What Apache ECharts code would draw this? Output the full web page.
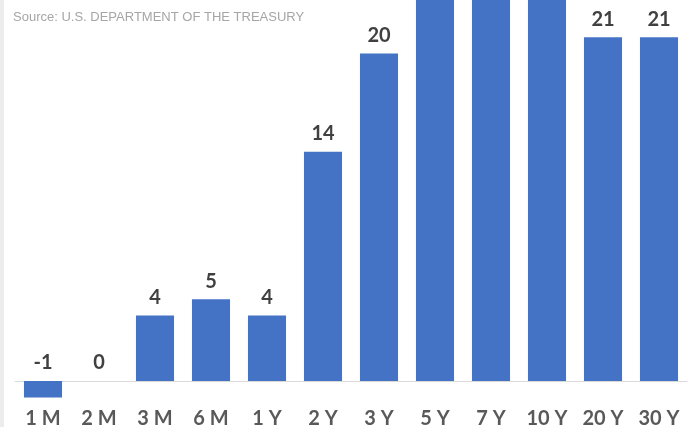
<!DOCTYPE html>
<html lang="en">
<head>
    <meta charset="UTF-8" />
    <title>Treasury yields</title>
    <script src="https://cdn.jsdelivr.net/npm/echarts@6/dist/echarts.min.js"></script>
    <style>
        html, body { margin: 0; padding: 0; background: #ffffff; }
        #main { width: 693px; height: 427px; }
    </style>
</head>
<body>
    <div id="main"></div>
    <script type="text/javascript">
        // maturities and values (5Y/7Y/10Y run off the top of the picture)
        var categories = ['1 M', '2 M', '3 M', '6 M', '1 Y', '2 Y', '3 Y', '5 Y', '7 Y', '10 Y', '20 Y', '30 Y'];
        var values = [-1, 0, 4, 5, 4, 14, 20, 25, 25, 24, 21, 21];
        var sourceText = 'Source: U.S. DEPARTMENT OF THE TREASURY';

        var myChart = echarts.init(document.getElementById('main'));
        var option;

        option = {
            animation: false,
            title: {
                text: sourceText,
                left: 8,
                top: 6,
                textStyle: {
                    fontFamily: 'Liberation Sans',
                    fontSize: 13,
                    fontWeight: 'normal',
                    color: '#a6a6a6'
                }
            },
            graphic: [
                {
                    type: 'rect',
                    left: 0,
                    top: 0,
                    shape: { width: 4, height: 427 },
                    style: { fill: '#ececec' }
                }
            ],
            grid: {
                left: 15,
                right: 6,
                top: 0,
                bottom: 21.4,
                containLabel: false,
                outerBoundsMode: 'none'
            },
            xAxis: {
                type: 'category',
                data: categories,
                axisLine: {
                    onZero: true,
                    lineStyle: { color: '#d9d9d9', width: 1 }
                },
                axisTick: { show: false },
                axisLabel: {
                    interval: 0,
                    margin: 3,
                    fontFamily: 'Lato',
                    fontWeight: 'bold',
                    fontSize: 20,
                    color: '#595959'
                }
            },
            yAxis: {
                type: 'value',
                min: -1.5,
                max: 23.27,
                show: false,
                splitLine: { show: false }
            },
            series: [
                {
                    type: 'bar',
                    data: values,
                    barCategoryGap: '32%',
                    itemStyle: {
                        color: '#4472c4'
                    },
                    label: {
                        show: true,
                        position: 'top',
                        distance: 8,
                        fontFamily: 'Lato',
                        fontWeight: 'bold',
                        fontSize: 20,
                        color: '#404040'
                    }
                }
            ]
        };
        option && myChart.setOption(option);
    </script>
</body>
</html>
